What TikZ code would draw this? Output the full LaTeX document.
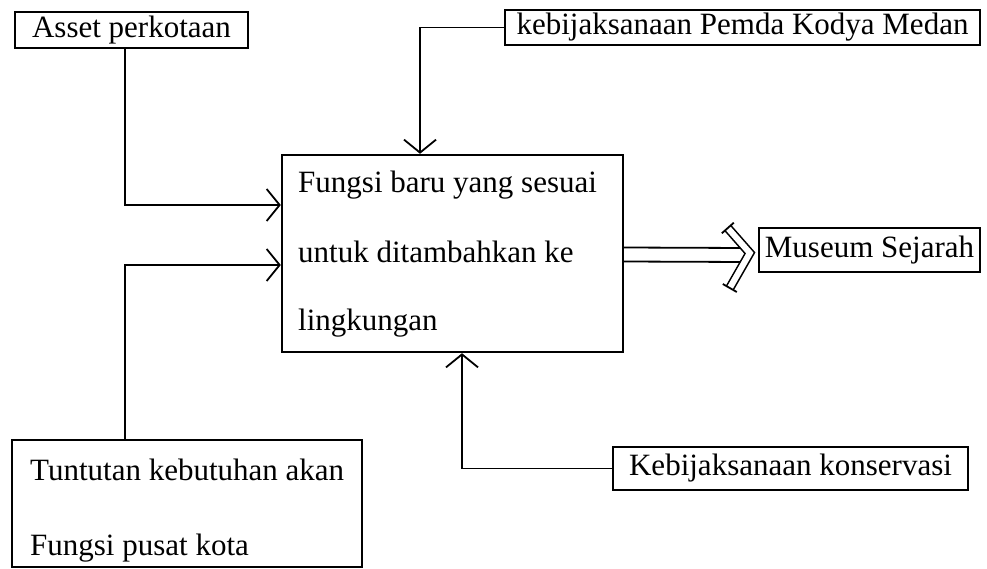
\documentclass[tikz,border=0pt]{standalone}
\usepackage{fontspec}
\setmainfont{Liberation Serif}
\usetikzlibrary{arrows.meta,calc}
\begin{document}
\begin{tikzpicture}[x=1pt,y=-1pt,
  box/.style={draw, line width=2.4pt, inner sep=0pt, font=\fontsize{31}{36}\selectfont},
  conn/.style={line width=1.8pt},
  arr/.style={conn, -{Straight Barb[length=13pt,width=32pt]}},
  txt/.style={inner sep=0pt, anchor=base west, font=\fontsize{31}{36}\selectfont}]
\useasboundingbox (0,0) rectangle (987,569);

% boxes
\node[box, minimum width=233pt, minimum height=36pt] (asset) at (131.5,30) {Asset perkotaan};
\node[box, minimum width=475pt, minimum height=35pt] (kebij) at (742.5,27.5) {kebijaksanaan Pemda Kodya Medan};
\node[box, minimum width=341pt, minimum height=197pt] (main) at (452.5,253.5) {};
\node[txt] (mainA) at (298,193) {Fungsi baru yang sesuai};
\node[txt] (mainB) at (298,262) {untuk ditambahkan ke};
\node[txt] (mainC) at (298,330) {lingkungan};
\node[box, minimum width=221pt, minimum height=44pt] (museum) at (869.5,250) {Museum Sejarah};
\node[box, minimum width=350pt, minimum height=127pt] (tuntut) at (187,503.5) {};
\node[txt] (tA) at (30,480) {Tuntutan kebutuhan akan};
\node[txt] (tB) at (30,555) {Fungsi pusat kota};
\node[box, minimum width=355pt, minimum height=43pt] (konserv) at (790.5,468.5) {Kebijaksanaan konservasi};

% connectors
\coordinate (a1) at (125,205);
\draw[arr] (asset.south -| a1) |- (main.west |- a1);
\coordinate (k1) at (420,0);
\draw[arr] (kebij.west) -| (main.north -| k1);
\coordinate (t1) at (125,265);
\draw[arr] (tuntut.north -| t1) |- (main.west |- t1);
\coordinate (c1) at (462,0);
\draw[arr] (konserv.west) -| (main.south -| c1);

% double arrow to museum
\coordinate (tipc) at ($(museum.west)+(-8,3)$);
\coordinate (e1) at ($(museum.west)+(-30,-22)$);
\coordinate (e2) at ($(museum.west)+(-28,38)$);
\draw[conn] ($(main.east)+(0,-6)$) -- ($(museum.west)+(-13,-2)$);
\draw[conn] ($(main.east)+(0,8)$) -- ($(museum.west)+(-13,12)$);
\draw[line width=1.6pt, double distance=6pt, line join=miter] (e1) -- (tipc) -- (e2);
\draw[conn] ($(e1)+(6,-5.3)$) -- ($(e1)+(-6,5.3)$);
\draw[conn] ($(e2)+(7,4)$) -- ($(e2)+(-7,-4)$);
\end{tikzpicture}
\end{document}
